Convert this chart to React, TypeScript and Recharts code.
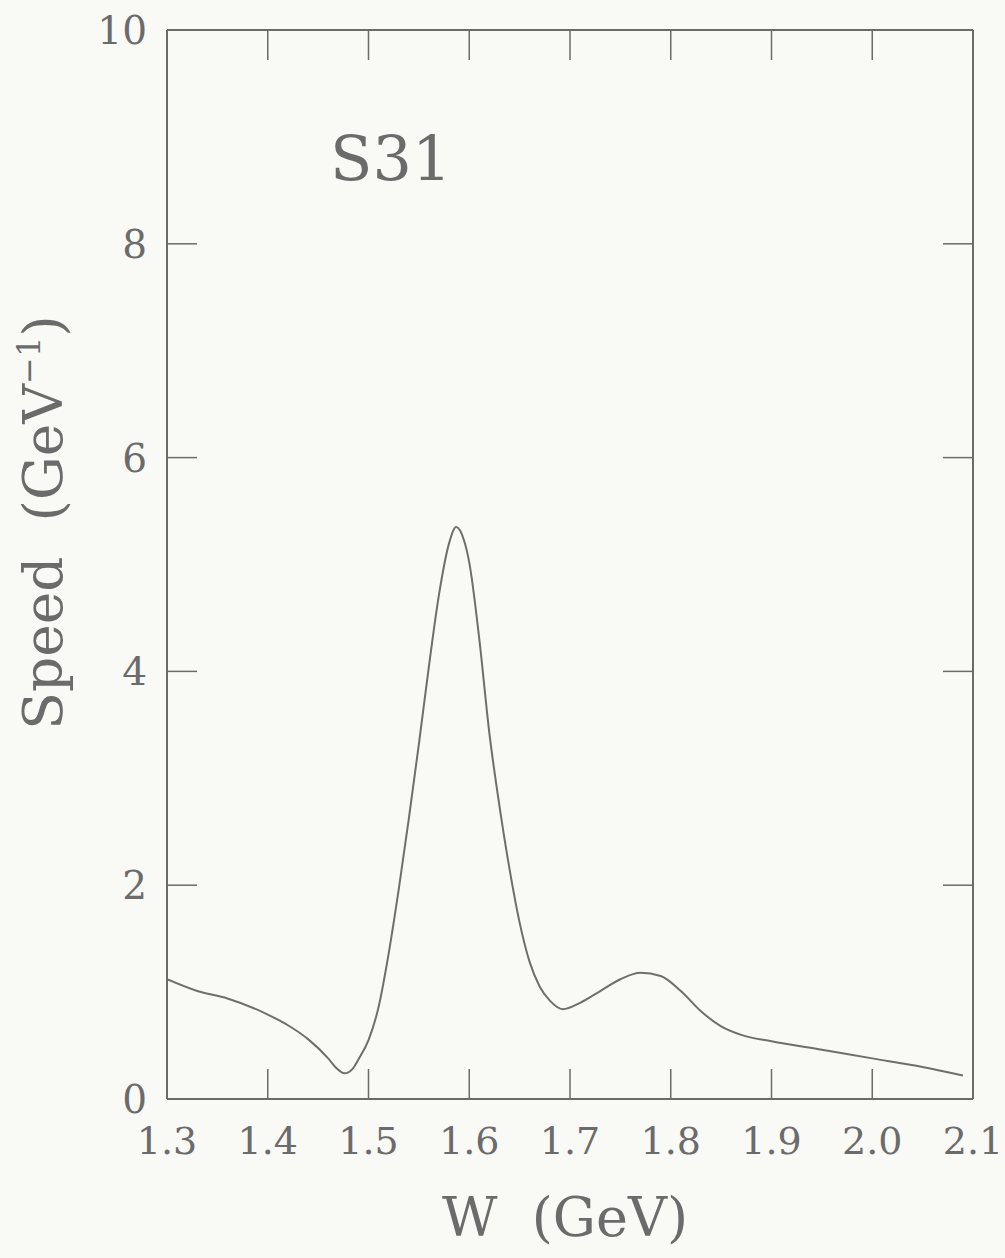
import { LineChart, Line, XAxis, YAxis } from "recharts";

// W (GeV) and speed (GeV^-1)
const wValues = [
  1.3, 1.33, 1.36, 1.4, 1.42, 1.44, 1.46, 1.468, 1.476, 1.484, 1.49, 1.5,
  1.51, 1.52, 1.53, 1.54, 1.55, 1.56, 1.57, 1.58, 1.587, 1.595, 1.6, 1.61,
  1.62, 1.63, 1.64, 1.65, 1.66, 1.67, 1.68, 1.693, 1.71, 1.73, 1.75, 1.77,
  1.79, 1.81, 1.83, 1.85, 1.87, 1.9, 1.95, 2.0, 2.05, 2.09,
];
const speedValues = [
  1.12, 1.01, 0.94, 0.79, 0.69, 0.56, 0.38, 0.29, 0.24, 0.28, 0.37, 0.55,
  0.86, 1.36, 1.96, 2.62, 3.32, 4.05, 4.72, 5.2, 5.35, 5.22, 5.02, 4.3,
  3.42, 2.74, 2.15, 1.65, 1.28, 1.05, 0.92, 0.84, 0.9, 1.01, 1.12, 1.18,
  1.15, 1.01, 0.82, 0.68, 0.6, 0.54, 0.46, 0.38, 0.3, 0.22,
];

const xTicks = [1.3, 1.4, 1.5, 1.6, 1.7, 1.8, 1.9, 2.0, 2.1];
const yTicks = [0, 2, 4, 6, 8, 10];

const panelLabel = "S31";
const xTitle = "W  (GeV)";

const INK = "#6b6b6b";
const FONT = "'DejaVu Serif', serif";
const TICK_LEN = 30;

const data = wValues.map((w, i) => ({ w, speed: speedValues[i] }));

function BottomTick({ x, y, payload }: any) {
  return (
    <g>
      <line x1={x} x2={x} y1={y} y2={y - TICK_LEN} stroke={INK} strokeWidth={1.5} />
      <text x={x} y={y + 55} textAnchor="middle" fontSize={38} fontFamily={FONT} fill={INK}>
        {Number(payload.value).toFixed(1)}
      </text>
    </g>
  );
}

function TopTick({ x, y }: any) {
  return <line x1={x} x2={x} y1={y} y2={y + TICK_LEN} stroke={INK} strokeWidth={1.5} />;
}

function LeftTick({ x, y, payload }: any) {
  return (
    <g>
      <line x1={x} x2={x + TICK_LEN} y1={y} y2={y} stroke={INK} strokeWidth={1.5} />
      <text x={x - 20} y={y + 14} textAnchor="end" fontSize={39} fontFamily={FONT} fill={INK}>
        {payload.value}
      </text>
    </g>
  );
}

function RightTick({ x, y }: any) {
  return <line x1={x} x2={x - TICK_LEN} y1={y} y2={y} stroke={INK} strokeWidth={1.5} />;
}

function XTitle(props: any) {
  const vb = props.viewBox;
  return (
    <text
      x={vb.x + vb.width / 2 - 5}
      y={vb.y + 137}
      textAnchor="middle"
      fontSize={54}
      fontFamily={FONT}
      fill={INK}
      style={{ whiteSpace: "pre" }}
    >
      {xTitle}
    </text>
  );
}

function YTitle(props: any) {
  const vb = props.viewBox;
  const cx = vb.x + 15;
  const cy = vb.y + vb.height / 2 - 42;
  return (
    <text
      x={cx}
      y={cy}
      transform={`rotate(-90, ${cx}, ${cy})`}
      textAnchor="middle"
      fontSize={55}
      fontFamily={FONT}
      fill={INK}
      style={{ whiteSpace: "pre" }}
    >
      {"Speed  (GeV"}
      <tspan dy={-22} fontSize={32}>−1</tspan>
      <tspan dy={22}>)</tspan>
    </text>
  );
}

export default function App() {
  return (
    <div
      style={{
        position: "absolute",
        left: 0,
        top: 0,
        width: 1005,
        height: 1258,
        background: "#f9f9f5",
      }}
    >
      <LineChart
        width={1005}
        height={1258}
        data={data}
        margin={{ top: 20, right: 22, bottom: 59, left: 47 }}
      >
        <XAxis
          xAxisId="bottom"
          dataKey="w"
          type="number"
          domain={[1.3, 2.1]}
          ticks={xTicks}
          interval={0}
          allowDataOverflow
          height={100}
          tickSize={0}
          tickMargin={0}
          tickLine={false}
          axisLine={{ stroke: INK, strokeWidth: 2 }}
          tick={<BottomTick />}
          label={{ content: XTitle }}
        />
        <XAxis
          xAxisId="top"
          dataKey="w"
          type="number"
          orientation="top"
          domain={[1.3, 2.1]}
          ticks={xTicks}
          interval={0}
          allowDataOverflow
          height={10}
          tickSize={0}
          tickMargin={0}
          tickLine={false}
          axisLine={{ stroke: INK, strokeWidth: 2 }}
          tick={<TopTick />}
        />
        <YAxis
          yAxisId="left"
          type="number"
          domain={[0, 10]}
          ticks={yTicks}
          interval={0}
          allowDataOverflow
          width={120}
          tickSize={0}
          tickMargin={0}
          tickLine={false}
          axisLine={{ stroke: INK, strokeWidth: 2 }}
          tick={<LeftTick />}
          label={{ content: YTitle }}
        />
        <YAxis
          yAxisId="right"
          orientation="right"
          type="number"
          domain={[0, 10]}
          ticks={yTicks}
          interval={0}
          allowDataOverflow
          width={10}
          tickSize={0}
          tickMargin={0}
          tickLine={false}
          axisLine={{ stroke: INK, strokeWidth: 2 }}
          tick={<RightTick />}
        />
        <Line
          xAxisId="bottom"
          yAxisId="left"
          type="monotone"
          dataKey="speed"
          stroke="#6e6e6e"
          strokeWidth={2}
          dot={false}
          isAnimationActive={false}
        />
      </LineChart>
      <div
        style={{
          position: "absolute",
          left: 330,
          top: 128,
          fontFamily: FONT,
          fontSize: 62,
          color: INK,
          lineHeight: 1,
        }}
      >
        {panelLabel}
      </div>
    </div>
  );
}
